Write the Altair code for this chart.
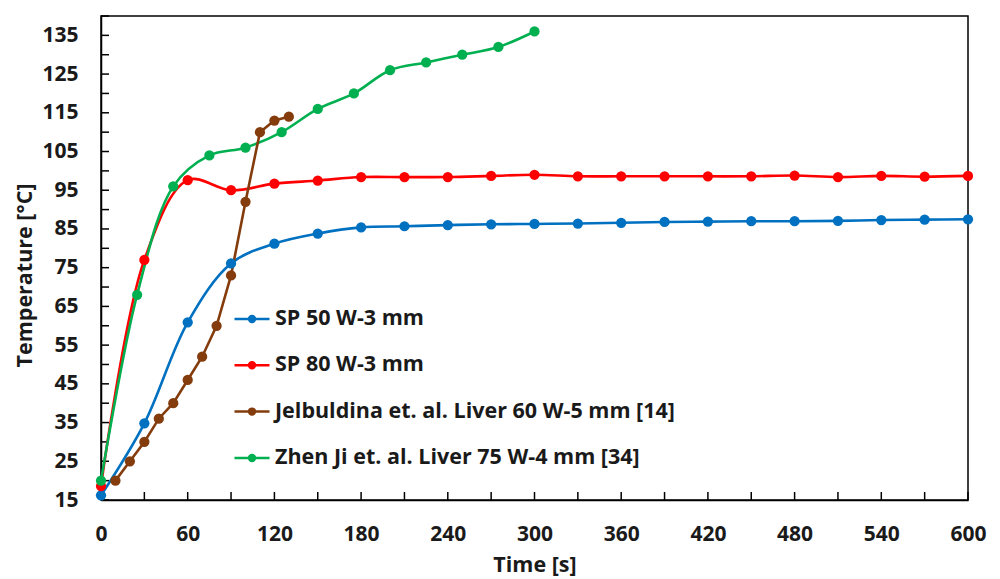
import altair as alt
import pandas as pd

# ---- data ----
sp50_t = [0, 30, 60, 90, 120, 150, 180, 210, 240, 270, 300, 330, 360, 390, 420, 450, 480, 510, 540, 570, 600]
sp50_v = [16.2, 34.8, 60.9, 76.1, 81.2, 83.8, 85.4, 85.7, 86.0, 86.2, 86.3, 86.4, 86.6, 86.8, 86.9, 87.0, 87.0, 87.1, 87.3, 87.4, 87.5]

sp80_t = [0, 30, 60, 90, 120, 150, 180, 210, 240, 270, 300, 330, 360, 390, 420, 450, 480, 510, 540, 570, 600]
sp80_v = [18.6, 77.0, 97.6, 95.0, 96.7, 97.5, 98.4, 98.4, 98.4, 98.7, 99.0, 98.6, 98.6, 98.6, 98.6, 98.6, 98.8, 98.4, 98.7, 98.5, 98.7]

jel_t = [10, 20, 30, 40, 50, 60, 70, 80, 90, 100, 110, 120, 130]
jel_v = [20, 25, 30, 36, 40, 46, 52, 60, 73, 92, 110, 113, 114]

zhen_t = [0, 25, 50, 75, 100, 125, 150, 175, 200, 225, 250, 275, 300]
zhen_v = [20, 68, 96, 104, 106, 110, 116, 120, 126, 128, 130, 132, 136]

series_names = [
    "SP 50 W-3 mm",
    "SP 80 W-3 mm",
    "Jelbuldina et. al. Liver 60 W-5 mm [14]",
    "Zhen Ji et. al. Liver 75 W-4 mm [34]",
]
series_colors = ["#0070C0", "#FF0000", "#843C0C", "#00B050"]

x_labels = list(range(0, 601, 60))
x_ticks = list(range(0, 601, 30))
y_labels = list(range(15, 136, 10))
y_ticks = list(range(15, 141, 5))

# ---- tables ----
rows = []
for name, ts, vs in zip(series_names, [sp50_t, sp80_t, jel_t, zhen_t], [sp50_v, sp80_v, jel_v, zhen_v]):
    for t, v in zip(ts, vs):
        rows.append({"series": name, "t": t, "v": v})
df = pd.DataFrame(rows)

xt = pd.DataFrame({"t": x_ticks})
yt = pd.DataFrame({"v": y_ticks})

W, H = 867, 484
FONT = "Open Sans"
TXT = "#1a1a1a"

xscale = alt.Scale(domain=[0, 600], nice=False, zero=False)
yscale = alt.Scale(domain=[15, 140], nice=False, zero=False)
cscale = alt.Scale(domain=series_names, range=series_colors)

# legend glyph: a short line with a (stroked-solid) dot in its middle
legend_symbol = (
    "M-1,0L1,0"
    "M-0.17,0A0.17,0.17,0,1,1,0.17,0A0.17,0.17,0,1,1,-0.17,0"
    "M-0.1,0A0.1,0.1,0,1,1,0.1,0A0.1,0.1,0,1,1,-0.1,0"
    "M-0.03,0A0.03,0.03,0,1,1,0.03,0A0.03,0.03,0,1,1,-0.03,0"
)

x_enc = alt.X(
    "t:Q", scale=xscale,
    axis=alt.Axis(values=x_labels, title="Time [s]", ticks=False, grid=False,
                  labelPadding=23, titlePadding=10, format="d", labelFlush=False),
)
y_enc = alt.Y(
    "v:Q", scale=yscale,
    axis=alt.Axis(values=y_labels, title="Temperature [°C]", ticks=False, grid=False,
                  labelPadding=23, format="d", labelFlush=False,
                  titleX=-76, titleY=259, titleBaseline="middle", titleAngle=270),
)

base = alt.Chart(df)

smooth = base.transform_filter(
    alt.FieldOneOfPredicate(field="series", oneOf=[series_names[0], series_names[1], series_names[3]])
).mark_line(interpolate="catmull-rom", strokeWidth=2.6).encode(
    x=x_enc, y=y_enc,
    color=alt.Color(
        "series:N", scale=cscale,
        legend=alt.Legend(
            title=None, orient="none", legendX=132, legendY=284,
            symbolType=legend_symbol, symbolSize=1225, symbolStrokeWidth=2.5,
            symbolOpacity=1,
            labelFont=FONT, labelFontSize=21.5, labelFontWeight="bold", labelColor=TXT,
            labelLimit=600, rowPadding=16.3, labelOffset=4, padding=0,
        ),
    ),
    detail="series:N",
)

straight = base.transform_filter(
    alt.FieldEqualPredicate(field="series", equal=series_names[2])
).mark_line(strokeWidth=2.6).encode(
    x=x_enc, y=y_enc,
    color=alt.Color("series:N", scale=cscale, legend=None),
)

points = base.mark_circle(size=105, opacity=1).encode(
    x=x_enc, y=y_enc,
    color=alt.Color("series:N", scale=cscale, legend=None),
)

xticks = alt.Chart(xt).mark_tick(color="black", thickness=1.5, size=8, opacity=1).encode(
    x=alt.X("t:Q", scale=xscale), y=alt.value(H - 4)
)
yticks = alt.Chart(yt).mark_tick(color="black", thickness=1.5, size=8, opacity=1).encode(
    y=alt.Y("v:Q", scale=yscale), x=alt.value(4)
)

chart = alt.layer(xticks, yticks, smooth, straight, points).resolve_legend(
    color="independent"
).properties(
    width=W, height=H,
    padding={"left": 101, "top": 16, "right": 32, "bottom": 79},
    autosize=alt.AutoSizeParams(type="none"),
    background="white",
).configure_view(
    stroke="black", strokeWidth=1.5
).configure_axis(
    domainColor="black", domainWidth=1.5,
    labelFont=FONT, labelFontSize=21, labelFontWeight="bold", labelColor=TXT,
    titleFont=FONT, titleFontSize=21.5, titleFontWeight="bold", titleColor=TXT,
)

chart.save("out.html", embed_options={"renderer": "svg", "actions": False})
